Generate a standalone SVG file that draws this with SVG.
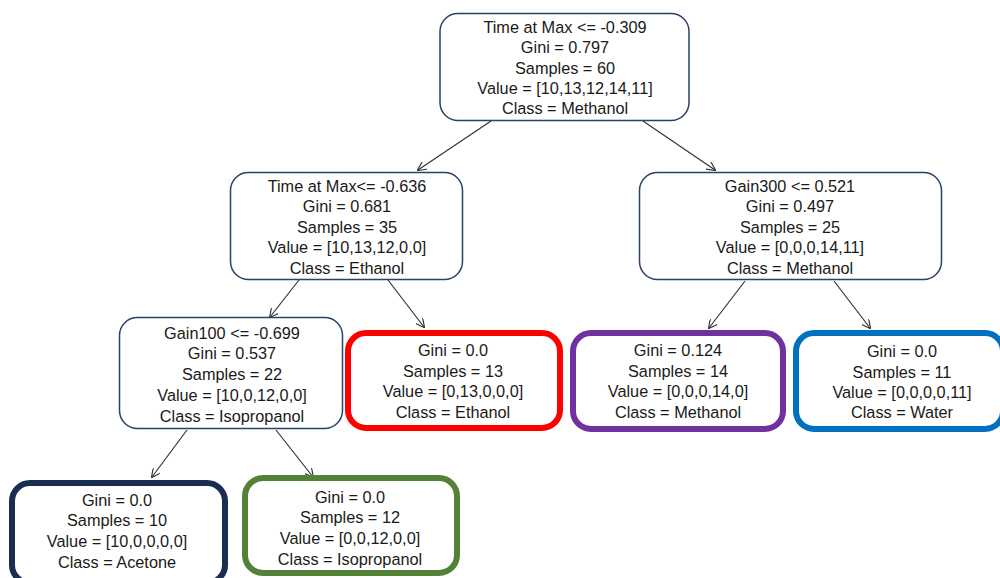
<svg xmlns="http://www.w3.org/2000/svg" width="1000" height="578" viewBox="0 0 1000 578">
<style>
  text { font-family: "Liberation Sans", Arial, sans-serif; font-size: 16.3px; fill: #1a1a1a; text-anchor: middle; }
  .thin { fill: #ffffff; stroke: #2b4266; stroke-width: 1.5; }
  .thick { fill: #ffffff; stroke-width: 6; }
  .edge { stroke: #333333; stroke-width: 1.2; fill: none; marker-end: url(#arr); }
</style>
<defs>
  <marker id="arr" viewBox="0 0 10 10" refX="9" refY="5" markerWidth="9" markerHeight="9" markerUnits="userSpaceOnUse" orient="auto">
    <path d="M0,0 L10,5 L0,10" fill="none" stroke="#333333" stroke-width="1.3"/>
  </marker>
</defs>
<rect width="1000" height="578" fill="#ffffff"/>
<g id="connectors">
  <line class="edge" x1="491" y1="121" x2="418" y2="170"/>
  <line class="edge" x1="643" y1="121" x2="715" y2="170"/>
  <line class="edge" x1="299" y1="280" x2="270" y2="317"/>
  <line class="edge" x1="388" y1="280" x2="424" y2="327"/>
  <line class="edge" x1="745" y1="281" x2="709" y2="328"/>
  <line class="edge" x1="834" y1="281" x2="870" y2="328"/>
  <line class="edge" x1="187" y1="430" x2="152" y2="477"/>
  <line class="edge" x1="276" y1="430" x2="313" y2="477"/>
</g>
<g id="root">
  <rect class="thin" x="440" y="13.5" width="249" height="107" rx="18"/>
  <text x="565" y="33">Time at Max &lt;= -0.309</text>
  <text x="565" y="53">Gini = 0.797</text>
  <text x="565" y="74">Samples = 60</text>
  <text x="565" y="94">Value = [10,13,12,14,11]</text>
  <text x="565" y="114">Class = Methanol</text>
</g>
<g id="node-left">
  <rect class="thin" x="230.5" y="172.5" width="232" height="107" rx="18"/>
  <text x="347" y="192">Time at Max&lt;= -0.636</text>
  <text x="347" y="212">Gini = 0.681</text>
  <text x="347" y="233">Samples = 35</text>
  <text x="347" y="253">Value = [10,13,12,0,0]</text>
  <text x="347" y="274">Class = Ethanol</text>
</g>
<g id="node-right">
  <rect class="thin" x="639.5" y="172.5" width="302" height="107" rx="18"/>
  <text x="790" y="192">Gain300 &lt;= 0.521</text>
  <text x="790" y="212">Gini = 0.497</text>
  <text x="790" y="233">Samples = 25</text>
  <text x="790" y="253">Value = [0,0,0,14,11]</text>
  <text x="790" y="274">Class = Methanol</text>
</g>
<g id="node-gain100">
  <rect class="thin" x="119.5" y="317.5" width="223" height="111" rx="18"/>
  <text x="232" y="339">Gain100 &lt;= -0.699</text>
  <text x="232" y="359">Gini = 0.537</text>
  <text x="232" y="380">Samples = 22</text>
  <text x="232" y="401">Value = [10,0,12,0,0]</text>
  <text x="232" y="422">Class = Isopropanol</text>
</g>
<g id="leaf-ethanol">
  <rect class="thick" stroke="#ff0000" x="348" y="333" width="212" height="95" rx="18"/>
  <text x="453" y="356">Gini = 0.0</text>
  <text x="453" y="377">Samples = 13</text>
  <text x="453" y="397">Value = [0,13,0,0,0]</text>
  <text x="453" y="418">Class = Ethanol</text>
</g>
<g id="leaf-methanol">
  <rect class="thick" stroke="#7030a0" x="573" y="333" width="210" height="96" rx="18"/>
  <text x="678" y="356">Gini = 0.124</text>
  <text x="678" y="377">Samples = 14</text>
  <text x="678" y="397">Value = [0,0,0,14,0]</text>
  <text x="678" y="418">Class = Methanol</text>
</g>
<g id="leaf-water">
  <rect class="thick" stroke="#0070c0" x="796" y="333" width="207" height="96" rx="18"/>
  <text x="902" y="357">Gini = 0.0</text>
  <text x="902" y="378">Samples = 11</text>
  <text x="902" y="398">Value = [0,0,0,0,11]</text>
  <text x="902" y="418">Class = Water</text>
</g>
<g id="leaf-acetone">
  <rect class="thick" stroke="#1a2e52" x="12" y="483" width="213" height="100" rx="18"/>
  <text x="117" y="506">Gini = 0.0</text>
  <text x="117" y="526">Samples = 10</text>
  <text x="117" y="547">Value = [10,0,0,0,0]</text>
  <text x="117" y="568">Class = Acetone</text>
</g>
<g id="leaf-isopropanol">
  <rect class="thick" stroke="#538135" x="245" y="478" width="212" height="95" rx="18"/>
  <text x="350" y="503">Gini = 0.0</text>
  <text x="350" y="523">Samples = 12</text>
  <text x="350" y="544">Value = [0,0,12,0,0]</text>
  <text x="350" y="565">Class = Isopropanol</text>
</g>
</svg>
